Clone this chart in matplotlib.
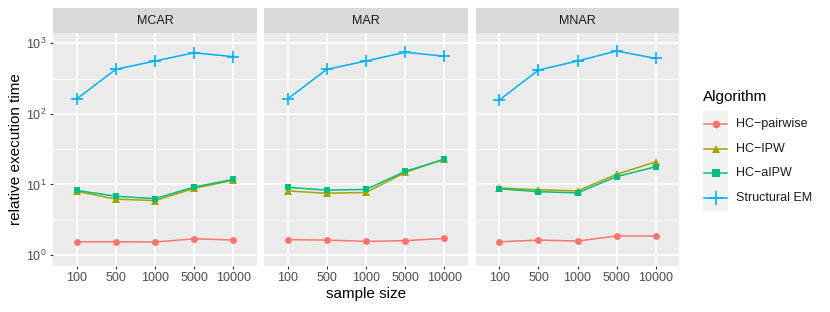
import numpy as np
import matplotlib.pyplot as plt

plt.rcParams['font.family'] = ['Liberation Sans', 'DejaVu Sans']
plt.rcParams['mathtext.fontset'] = 'custom'
plt.rcParams['mathtext.rm'] = 'Liberation Sans'

sizes = ['100', '500', '1000', '5000', '10000']
mechanisms = ['MCAR', 'MAR', 'MNAR']
algorithms = ['HC\u2212pairwise', 'HC\u2212IPW', 'HC\u2212aIPW', 'Structural EM']

# relative execution time, one list per mechanism
pairwise = {'MCAR': [1.54, 1.54, 1.53, 1.70, 1.63],
            'MAR':  [1.65, 1.63, 1.56, 1.60, 1.72],
            'MNAR': [1.54, 1.63, 1.58, 1.86, 1.86]}
ipw = {'MCAR': [8.0, 6.2, 5.9, 8.8, 11.5],
       'MAR':  [8.1, 7.5, 7.7, 14.8, 23.0],
       'MNAR': [8.9, 8.4, 8.1, 13.9, 20.9]}
aipw = {'MCAR': [8.25, 6.8, 6.3, 9.2, 11.8],
        'MAR':  [9.1, 8.3, 8.5, 15.3, 22.7],
        'MNAR': [8.7, 7.9, 7.6, 12.9, 17.8]}
sem = {'MCAR': [162, 427, 560, 733, 645],
       'MAR':  [162, 427, 560, 745, 655],
       'MNAR': [157, 417, 560, 777, 610]}

series = [pairwise, ipw, aipw, sem]
colors = ['#F8766D', '#A3A500', '#00BF7D', '#00B0F6']
markers = ['o', '^', 's', '+']
msizes = [5, 5.5, 5, 9]

W, H = 830, 312
fig = plt.figure(figsize=(W / 100, H / 100), dpi=100)


def box(x0, y0, x1, y1):
    return [x0 / W, 1 - y1 / H, (x1 - x0) / W, (y1 - y0) / H]


panels = [(53, 257), (264, 468), (476, 679)]
ytop, ybot = 33, 266
x = np.arange(len(sizes))

for i, (mech, (x0, x1)) in enumerate(zip(mechanisms, panels)):
    ax = fig.add_axes(box(x0, ytop, x1, ybot))
    ax.set_facecolor('#EBEBEB')
    ax.set_yscale('log')
    ax.set_ylim(10 ** -0.155, 10 ** 3.145)
    ax.set_xlim(-0.6, 4.6)
    for v in [10 ** (k + 0.5) for k in range(-1, 4)]:
        ax.axhline(v, color='white', lw=0.6, zorder=0)
    for v in [1, 10, 100, 1000]:
        ax.axhline(v, color='white', lw=1.2, zorder=0)
    for xx in x:
        ax.axvline(xx, color='white', lw=1.2, zorder=0)
    for s, c, m, ms in zip(series, colors, markers, msizes):
        ax.plot(x, s[mech], color=c, marker=m, ms=ms, lw=1.1, mew=1.2 if m == '+' else 0, zorder=3)
    for sp in ax.spines.values():
        sp.set_visible(False)
    ax.minorticks_off()
    ax.set_yticks([1, 10, 100, 1000])
    ax.set_xticks(x)
    ax.set_xticklabels(sizes)
    ax.tick_params(axis='both', colors='#333333', labelcolor='#4D4D4D', labelsize=9, length=2.5, width=0.8, pad=2)
    if i == 0:
        ax.set_yticklabels([r'$\mathregular{10^0}$', r'$\mathregular{10^1}$',
                            r'$\mathregular{10^2}$', r'$\mathregular{10^3}$'])
        ax.set_ylabel('relative execution time', fontsize=11, labelpad=2)
    else:
        ax.tick_params(axis='y', left=False, labelleft=False)
    if i == 1:
        ax.set_xlabel('sample size', fontsize=11, labelpad=2)
    # strip
    st = fig.add_axes(box(x0, 8, x1, ytop))
    st.set_facecolor('#D9D9D9')
    st.set_xticks([])
    st.set_yticks([])
    for sp in st.spines.values():
        sp.set_visible(False)
    st.text(0.5, 0.5, mech, ha='center', va='center', fontsize=9, color='#1A1A1A', transform=st.transAxes)

# legend
fig.text(703 / W, 1 - 97 / H, 'Algorithm', fontsize=11, va='center', ha='left')
kb = fig.add_axes(box(703, 111, 728, 211))
kb.set_facecolor('#F2F2F2')
kb.set_xlim(0, 1)
kb.set_ylim(211, 111)
kb.set_xticks([])
kb.set_yticks([])
for sp in kb.spines.values():
    sp.set_visible(False)
for j, (lab, c, m, ms) in enumerate(zip(algorithms, colors, markers, msizes)):
    yy = 124 + j * 24.7
    kb.plot([0.05, 0.95], [yy, yy], color=c, lw=1.1)
    kb.plot([0.5], [yy], color=c, marker=m, ms=ms + 0.5, mew=1.2 if m == '+' else 0)
    fig.text(736 / W, 1 - yy / H, lab, fontsize=9, va='center', ha='left', color='#1A1A1A')

fig.savefig('out.png', dpi=100)
